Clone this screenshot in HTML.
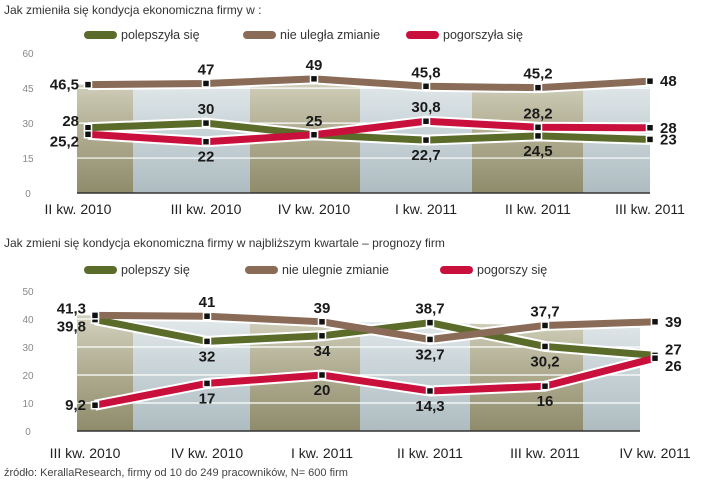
<!DOCTYPE html>
<html><head><meta charset="utf-8">
<style>
body{margin:0;background:#fff;width:720px;height:481px;overflow:hidden;font-family:"Liberation Sans",sans-serif}
svg{display:block}
.t{font-size:12px;fill:#333}
.tick{font-size:10px;fill:#888}
.xl{font-size:14px;fill:#222}
.lab{font-size:15px;font-weight:bold;fill:#1a1a1a}
.leg{font-size:12.5px;fill:#333}
</style></head>
<body>
<svg id="chart" width="720" height="481" viewBox="0 0 720 481">
<defs>
<linearGradient id="gOl" x1="0" y1="0" x2="0" y2="1"><stop offset="0" stop-color="#e4e2d2"/><stop offset="0.55" stop-color="#b1ae93"/><stop offset="1" stop-color="#8f8c6c"/></linearGradient>
<linearGradient id="gBl" x1="0" y1="0" x2="0" y2="1"><stop offset="0" stop-color="#f0f3f4"/><stop offset="0.55" stop-color="#c9d4d8"/><stop offset="1" stop-color="#aebcc1"/></linearGradient>
</defs>
<text class="t" x="4" y="14">Jak zmieniła się kondycja ekonomiczna firmy w :</text>
<text class="t" x="4" y="247">Jak zmieni się kondycja ekonomiczna firmy w najbliższym kwartale – prognozy firm</text>
<text x="4" y="476" style="font-size:11px;fill:#444">źródło: KerallaResearch, firmy od 10 do 249 pracowników, N= 600 firm</text>
<g id="top"></g>
<g id="bot"></g>
</svg>
<script>
const topCats=["II kw. 2010","III kw. 2010","IV kw. 2010","I kw. 2011","II kw. 2011","III kw. 2011"];
const topGood=[28,30,25,22.7,24.5,23];
const topSame=[46.5,47,49,45.8,45.2,48];
const topBad=[25.2,22,25,30.8,28.2,28];
const topTicks=[0,15,30,45,60];
const topGoodLbl=["28","30","25","22,7","24,5","23"];
const topSameLbl=["46,5","47","49","45,8","45,2","48"];
const topBadLbl=["25,2","22","","30,8","28,2","28"];

const botCats=["III kw. 2010","IV kw. 2010","I kw. 2011","II kw. 2011","III kw. 2011","IV kw. 2011"];
const botGood=[39.8,32,34,38.7,30.2,27];
const botSame=[41.3,41,39,32.7,37.7,39];
const botBad=[9.2,17,20,14.3,16,26];
const botTicks=[0,10,20,30,40,50];
const botGoodLbl=["39,8","32","34","38,7","30,2","27"];
const botSameLbl=["41,3","41","39","32,7","37,7","39"];
const botBadLbl=["9,2","17","20","14,3","16","26"];

const NS="http://www.w3.org/2000/svg";
function mk(p,tag,at){const e=document.createElementNS(NS,tag);for(const k in at)e.setAttribute(k,at[k]);p.appendChild(e);return e;}

function draw(g,cfg){
  const {cats,series,ticks,y0,pxPer,xs,x0,xEnd,bands,legY,legX,names,xlY,place}=cfg;
  const Y=v=>y0-v*pxPer;
  const X=i=>xs[i];
  // clip polygon under max series
  let pts=[[x0,Y(Math.max(...series.map(s=>s.v[0])))]];
  cats.forEach((c,i)=>pts.push([X(i),Y(Math.max(...series.map(s=>s.v[i])))]));
  pts.push([xEnd,Y(Math.max(...series.map(s=>s.v[cats.length-1])))],[xEnd,y0],[x0,y0]);
  const cid="clip"+cfg.id;
  const cp=mk(mk(g,"defs",{}),"clipPath",{id:cid});
  mk(cp,"polygon",{points:pts.map(p=>p.join(",")).join(" ")});
  const bg=mk(g,"g",{"clip-path":"url(#"+cid+")"});
  for(let i=0;i<bands.length-1;i++){
    const r=mk(bg,"rect",{x:bands[i],y:Y(ticks[ticks.length-1]),width:bands[i+1]-bands[i],height:y0-Y(ticks[ticks.length-1]),fill:i%2?"url(#gBl)":"url(#gOl)"});
    
    
  }
  ticks.forEach(t=>{
    if(t>0){const l=mk(bg,"line",{x1:x0,x2:xEnd,y1:Y(t),y2:Y(t),stroke:"#fff","stroke-width":1.2});
    
    }
    const tx=mk(g,"text",{x:28,y:Y(t)+4,"text-anchor":"middle",class:"tick"});tx.textContent=t;
    
    
  });
  const ax=mk(g,"line",{x1:x0,x2:xEnd,y1:y0,y2:y0,stroke:"#333","stroke-width":1.5});
  
  
  cats.forEach((c,i)=>{const t=mk(g,"text",{x:X(i)-(i==0?10:0)+(i==cats.length-1?0:0),y:xlY,"text-anchor":"middle",class:"xl"});t.textContent=c;
    
    });
  series.forEach((s,si)=>{
    const d=s.v.map((v,i)=>(i?"L":"M")+X(i)+","+Y(v)).join(" ");
    const o=mk(g,"path",{d:d,fill:"none",stroke:"#fff","stroke-width":11,"stroke-linejoin":"miter"});
    
    
  });
  series.forEach((s,si)=>{
    const d=s.v.map((v,i)=>(i?"L":"M")+X(i)+","+Y(v)).join(" ");
    const p=mk(g,"path",{d:d,fill:"none",stroke:s.c,"stroke-width":7,"stroke-linejoin":"miter"});
    
    
  });
  series.forEach((s,si)=>{
    s.v.forEach((v,i)=>{
      const m=mk(g,"rect",{x:X(i)-3.5,y:Y(v)-3.5,width:7,height:7,fill:"#111",stroke:"#fff","stroke-width":1.5});
      
      
      if(!s.l[i])return;
      const pl=place[si][i];
      let x=X(i),y=Y(v),a="middle";
      if(pl==="L"){x-=9;y+=5;a="end";}
      else if(pl==="R"){x+=10;y+=5;a="start";}
      else if(pl==="A"){y-=9;}
      else if(pl==="B"){y+=20;}
      else if(pl==="LA"){x-=9;y-=2;a="end";}
      else if(pl==="LB"){x-=9;y+=12;a="end";}
      else if(pl==="RA"){x+=10;y-=1;a="start";}
      else if(pl==="RB"){x+=10;y+=13;a="start";}
      const t=mk(g,"text",{x:x,y:y,"text-anchor":a,class:"lab"});t.textContent=s.l[i];
      
      
    });
  });
  series.forEach((s,si)=>{
    const r=mk(g,"rect",{x:legX[si],y:legY-4,width:33,height:8,rx:4,fill:s.c});
    
    
    const t=mk(g,"text",{x:legX[si]+37,y:legY+4,class:"leg"});t.textContent=names[si];
    
    
  });
}
const G="#5b6b2a",B="#8a6b57",R="#c90f3c";
draw(document.getElementById("top"),{id:"t",cats:topCats,ticks:topTicks,y0:193,pxPer:2.33,
 xs:[88,206,314,426,538,650],x0:77,xEnd:650,bands:[77,133,250,360,472,583,650],
 legY:35,legX:[84,243,406],xlY:214,names:["polepszyła się","nie uległa zmianie","pogorszyła się"],
 series:[{key:"polepszyla",v:topGood,l:topGoodLbl,c:G},{key:"nie-ulegla",v:topSame,l:topSameLbl,c:B},{key:"pogorszyla",v:topBad,l:topBadLbl,c:R}],
 place:[["LA","A","A","B","B","R"],["L","A","A","A","A","R"],["LB","B","A","A","A","R"]]});
draw(document.getElementById("bot"),{id:"b",cats:botCats,ticks:botTicks,y0:431,pxPer:2.8,
 xs:[95,207,322,430,545,655],x0:77,xEnd:640,bands:[77,133,250,360,470,583,640],
 legY:270,legX:[84,245,440],xlY:458,names:["polepszy się","nie ulegnie zmianie","pogorszy się"],
 series:[{key:"polepszy",v:botGood,l:botGoodLbl,c:G},{key:"nie-ulegnie",v:botSame,l:botSameLbl,c:B},{key:"pogorszy",v:botBad,l:botBadLbl,c:R}],
 place:[["LB","B","B","A","B","RA"],["LA","A","A","B","A","R"],["L","B","B","B","B","RB"]]});
</script>
</body></html>
